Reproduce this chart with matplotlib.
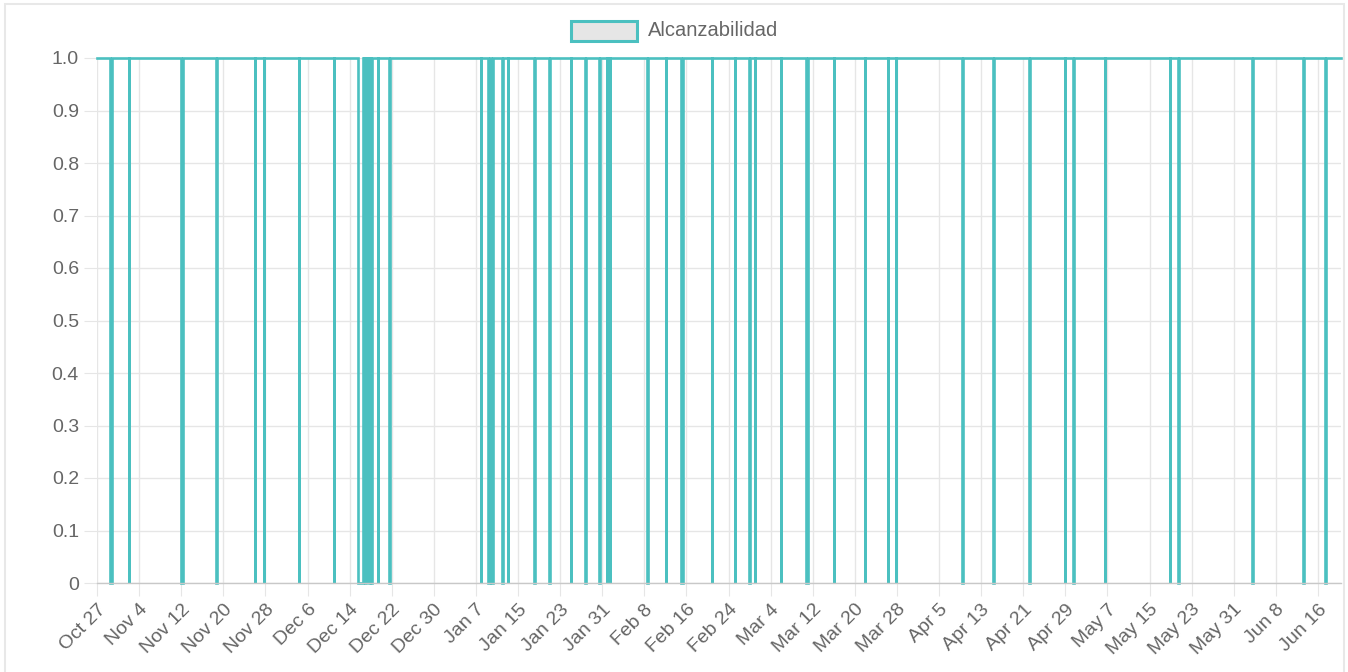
import matplotlib
matplotlib.use("Agg")
import matplotlib.pyplot as plt
import matplotlib.dates as mdates
from matplotlib.patches import Rectangle
import pandas as pd

plt.rcParams['font.family'] = ['Liberation Sans', 'DejaVu Sans']

# datos
serie = "Alcanzabilidad"
inicio = "2018-10-27 00:00"
fin = "2019-06-20 09:00"

# comienzo de cada caida (valor 0) y su duracion en horas
caidas_inicio = [
    "2018-10-29 11:00", "2018-11-02 00:00", "2018-11-12 00:15", "2018-11-18 16:00",
    "2018-11-25 22:30", "2018-11-27 17:20", "2018-12-04 07:10", "2018-12-11 00:30",
    "2018-12-15 12:10", "2018-12-16 16:50", "2018-12-16 23:15", "2018-12-17 05:40",
    "2018-12-17 12:00", "2018-12-17 18:25", "2018-12-18 00:15", "2018-12-19 07:25",
    "2018-12-21 12:45", "2019-01-07 22:50", "2019-01-09 08:00", "2019-01-09 21:40",
    "2019-01-12 01:10", "2019-01-13 00:00", "2019-01-18 01:00", "2019-01-20 22:10",
    "2019-01-25 01:10", "2019-01-27 17:20", "2019-01-30 11:30", "2019-01-31 20:20",
    "2019-02-01 09:10", "2019-02-08 14:25", "2019-02-12 02:10", "2019-02-14 22:35",
    "2019-02-20 20:00", "2019-02-25 03:50", "2019-02-27 23:20", "2019-02-28 23:00",
    "2019-03-05 21:40", "2019-03-10 18:00", "2019-03-16 01:30", "2019-03-21 20:40",
    "2019-03-26 05:30", "2019-03-27 20:10", "2019-04-09 10:30", "2019-04-15 07:50",
    "2019-04-22 00:15", "2019-04-28 22:50", "2019-04-30 12:30", "2019-05-06 13:10",
    "2019-05-18 21:20", "2019-05-20 11:20", "2019-06-03 11:20", "2019-06-13 05:20",
    "2019-06-17 09:40",
]
caidas_horas = [
    8, 1.5, 7, 1.5,
    1.5, 1.5, 1.5, 1.5,
    24.5, 2, 2, 2,
    2, 2, 5, 3,
    1.5, 1.5, 6, 6,
    1.5, 1.5, 5, 1.5,
    1.5, 5, 1.5, 1.5,
    1.5, 1.5, 1.5, 9,
    1.5, 1.5, 1.5, 1.5,
    1.5, 9, 1.5, 1.5,
    1.5, 1.5, 1.5, 1.5,
    7, 1.5, 1.5, 1.5,
    1.5, 1.5, 5, 1.5,
    1.5,
]

color = "#4bc0c0"
gris = "#666666"

t = [pd.Timestamp(inicio)]
v = [1]
for s, h in zip(caidas_inicio, caidas_horas):
    a = pd.Timestamp(s)
    b = a + pd.Timedelta(hours=h)
    t += [a, a, b, b]
    v += [1, 0, 0, 1]
t.append(pd.Timestamp(fin))
v.append(1)

W, H = 1348, 672
fig = plt.figure(figsize=(W / 100, H / 100), dpi=100)
fig.patches.append(Rectangle((5 / W, -0.05), (1344 - 5) / W, 1.05 - 4 / H,
                             transform=fig.transFigure, fill=False,
                             edgecolor="#e8e8e8", lw=1.5))

ax = fig.add_axes([97 / W, 89 / H, (1341 - 97) / W, (583 - 58) / H])
ax.plot(t, v, color=color, lw=1.9, clip_on=False, solid_joinstyle="miter")

ax.set_xlim(pd.Timestamp(inicio), pd.Timestamp(fin))
ax.set_ylim(0, 1)

ticks_x = pd.date_range("2018-10-27", "2019-06-16", freq="8D")
ax.set_xticks(ticks_x)
ax.xaxis.set_major_formatter(plt.FuncFormatter(
    lambda x, pos: mdates.num2date(x).strftime("%b ") + str(mdates.num2date(x).day)))
ticks_y = [i / 10 for i in range(11)]
ax.set_yticks(ticks_y)
ax.set_yticklabels(["0"] + ["%.1f" % y for y in ticks_y[1:]])

for lab in ax.get_xticklabels():
    lab.set_rotation(45)
    lab.set_ha("right")
    lab.set_rotation_mode("anchor")

ax.grid(True, color="#e6e6e6", lw=1)
ax.set_axisbelow(True)
ax.tick_params(axis="both", length=9.5, width=0.8, color="#e6e6e6",
               labelcolor=gris, labelsize=14, pad=3.5)
for s in ["top", "right", "left"]:
    ax.spines[s].set_visible(False)
ax.spines["bottom"].set_color("#c8c8c8")
ax.spines["bottom"].set_linewidth(1)

# leyenda
fig.patches.append(Rectangle((571 / W, 1 - 41 / H), 66 / W, 20 / H,
                             transform=fig.transFigure, facecolor="#e6e6e6",
                             edgecolor=color, lw=2.2))
fig.text(648 / W, 1 - 31 / H, serie, ha="left", va="center", color=gris, fontsize=14.5)

fig.savefig("out.png", dpi=100)
